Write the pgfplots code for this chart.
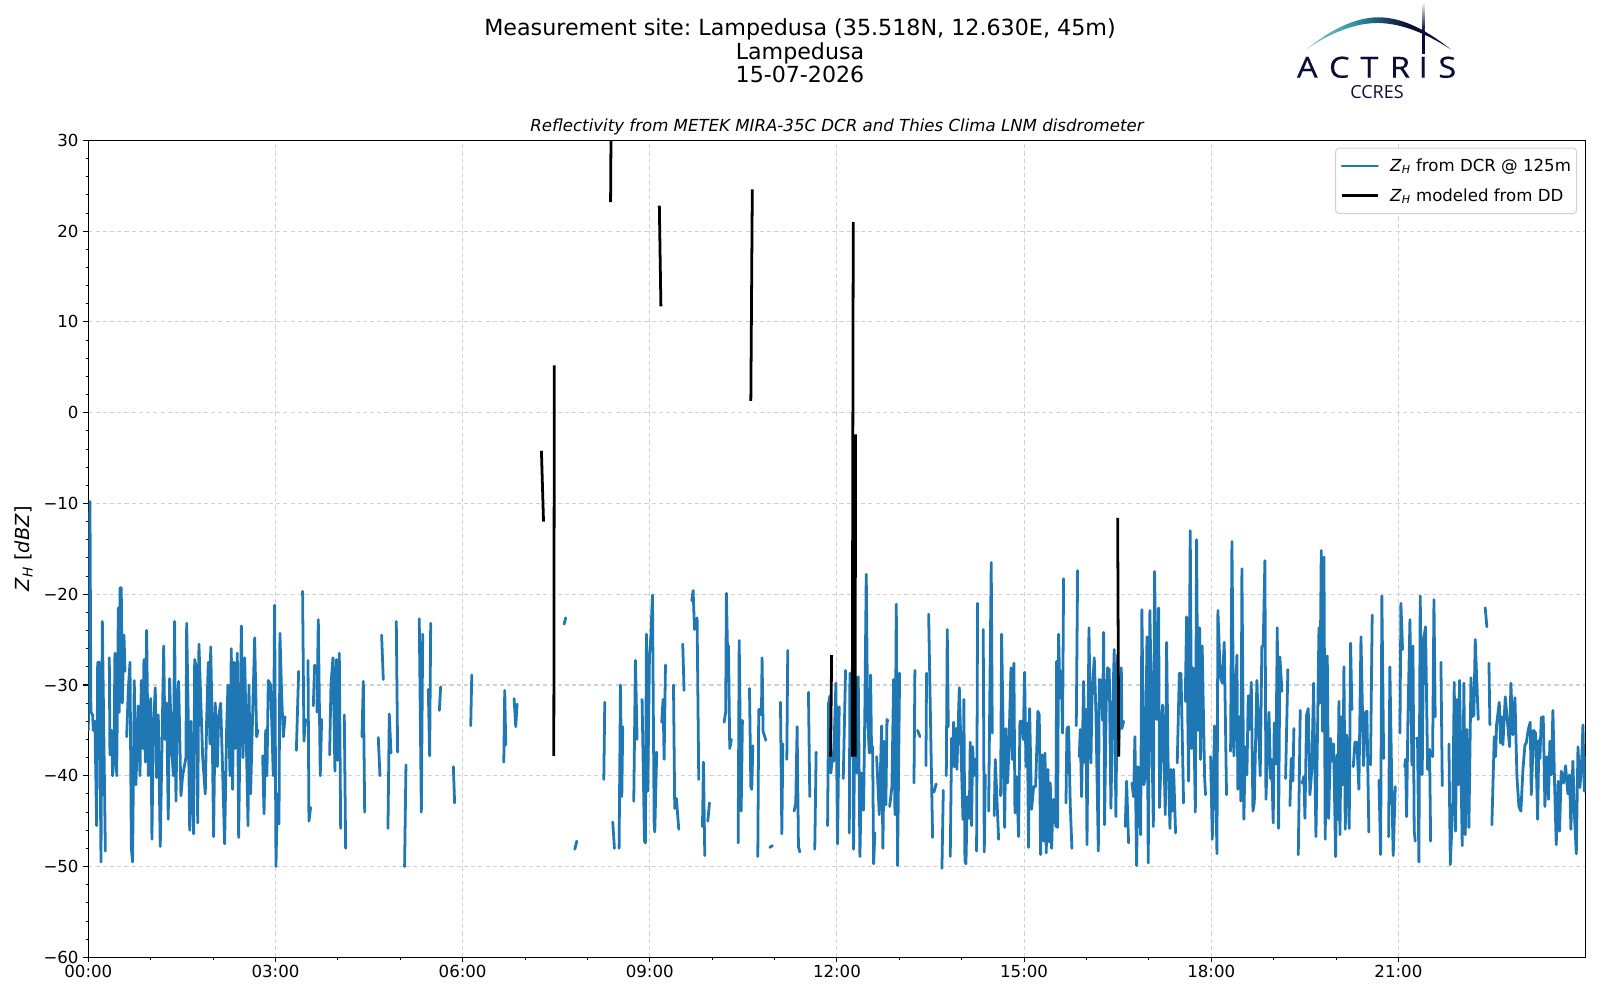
\documentclass[border=0pt]{standalone}
\usepackage{fontspec}
\usepackage{pgfplots}
\pgfplotsset{compat=1.18}
\setmainfont{DejaVu Sans}
\newfontfamily\logofont{Open Sans}
\newfontfamily\logowide[FakeBold=0.5,FakeStretch=1.12]{Open Sans}
\frenchspacing
\definecolor{mplblue}{HTML}{1F77B4}
\definecolor{gridgrey}{HTML}{D2D2D2}
\definecolor{logonavy}{HTML}{0C0C38}
\definecolor{logoteal}{HTML}{2F93A3}
\definecolor{logolight}{HTML}{85CFC6}
\pgfdeclarehorizontalshading{logoarc}{100bp}{color(0bp)=(logolight); color(25bp)=(logolight); color(42bp)=(logoteal); color(50bp)=(logoteal!55!logonavy); color(60bp)=(logonavy); color(100bp)=(logonavy)}
\newcommand{\ZH}{\textit{Z}\textsubscript{\textit{H}}}
\begin{document}
\begin{tikzpicture}[x=1bp,y=1bp]
\path[use as bounding box] (0,0) rectangle (1152,720);
\begin{axis}[
  at={(63.58bp,30.74bp)}, anchor=south west,
  scale only axis, width=1078.0bp, height=588.24bp,
  xmin=0, xmax=1440, ymin=-60, ymax=30,
  xtick={0,180,360,540,720,900,1080,1260},
  xticklabels={00:00,03:00,06:00,09:00,12:00,15:00,18:00,21:00},
  ytick={-60,-50,-40,-30,-20,-10,0,10,20,30},
  yticklabels={−60,−50,−40,−30,−20,−10,0,10,20,30},
  minor x tick num=2, minor y tick num=4,
  tick align=outside, tick pos=left,
  major tick length=3.5bp, minor tick length=2bp,
  every tick/.style={black,line width=0.8bp},
  minor tick style={black,line width=0.6bp},
  axis line style={line width=0.8bp},
  tick label style={font=\fontsize{12}{14}\selectfont},
  xticklabel style={yshift=1bp},
  grid=major,
  major grid style={gridgrey,dashed,line width=0.8bp,dash pattern=on 3bp off 2.2bp},
  unbounded coords=jump,
  clip=true,
  legend cell align=left,
  legend style={at={(0.9943,0.991)},anchor=north east,draw=gridgrey,rounded corners=2.5bp,
    fill=white,fill opacity=0.8,text opacity=1,draw opacity=1,
    font=\fontsize{12}{14}\selectfont,inner xsep=2bp,inner ysep=5.5bp,
    row sep=7bp,line width=0.7bp},
  legend image code/.code={\draw[#1,line width=2bp] (0bp,0bp) -- (25.7bp,0bp);\path (-1.6bp,0bp) (31.7bp,0bp);},
  ylabel={\fontsize{14}{16}\selectfont \ZH{} [\textit{dBZ}]},
  ylabel style={at={(axis description cs:0,0.5)},anchor=south,yshift=36.6bp},
]
\addplot[mplblue,line width=2bp,line join=round,line cap=round] coordinates {
(0,-35)(1.6,-9.8)(2.5,-33)(4.2,-33.3)(4.8,-35)(6.4,-34)(8,-45.5)(9,-27.5)(10.6,-27.5)(12.2,-49.5)(13.5,-23)(16.4,-48.3)(16.4,nan)
(20.2,-27)(20.8,-37.7)(22.4,-35)(23.4,-40)(24.7,-38)(25.6,-26.5)(27.3,-40)(28.9,-21.5)(29.8,-33)(30.5,-19.3)(31.7,-19.3)(32.7,-32)(34.3,-24.5)(35.3,-28.5)(35.3,nan)
(36.9,-35.7)(38.5,-30.5)(40.1,-27.5)(41.4,-48)(42.6,-49.5)(44.2,-29.5)(45.8,-41)(48.1,-32.3)(49.7,-40)(51,-29.5)(52.3,-37)(53.5,-27.2)(54.8,-38.5)(56.1,-24)(57.7,-40)(60,-31.5)(61.2,-47)(62.5,-35)(64.4,-30.3)(65.7,-40.2)(67.3,-33.3)(69.2,-47.8)(72.5,-25.7)(73.7,-36)(75.3,-32)(76.9,-44.8)(78.2,-29.3)(80.2,-37)(81.8,-40)(83,-23)(84.3,-42.8)(85.6,-32)(86.9,-29.6)(89.1,-42.2)(90.7,-40)(93.9,-38)(94.6,-23.2)(96.2,-34)(97.5,-46)(98.7,-34)(99.7,-41)(101.3,-46.4)(102.3,-27.2)(104.2,-28.3)(105.2,-45.2)(106.4,-25.5)(110,-38)(112.5,-42)(113.8,-34)(115.4,-27.5)(117,-36.5)(117.7,-25.8)(118.9,-32.8)(120.5,-46.7)(122.1,-32)(124.1,-39)(125.4,-33.5)(127.3,-32)(128.9,-38.3)(131.1,-47.5)(133,-35)(134.3,-30)(136.3,-40)(137.5,-26)(138.8,-41.5)(140.1,-27.5)(141.4,-37)(143.3,-26.5)(144.6,-46.8)(147.2,-23.5)(148.8,-38)(150.4,-27)(153.6,-45.5)(154.5,-30)(156.1,-42)(158.1,-33)(160,-24.8)(161.9,-35.7)(163.2,-35)(163.2,nan)
(167.7,-37.8)(169,-44.2)(170.6,-35)(171.8,-40)(173.1,-29.5)(175.4,-30)(177.9,-40)(179.2,-21.2)(180.5,-50)(181.8,-42)(183.4,-45.3)(184.3,-24.3)(185.9,-31)(187.6,-35.7)(189.2,-33.5)(189.2,nan)
(200.1,-37.2)(202.3,-28.5)(202.3,nan)
(206.1,-19.7)(207.4,-36.2)(208.7,-33.8)(208.7,nan)
(211.3,-27.3)(212.2,-45)(213.8,-43.5)(213.8,nan)
(216.4,-32.3)(217.7,-27.8)(217.7,nan)
(219.9,-33)(221.2,-22.8)(223.1,-40)(224.4,-33.8)(224.4,nan)
(232.1,-37.7)(233.4,-30)(235.3,-27)(237.2,-39.5)(238.5,-27.2)(239.8,-38.3)(241.4,-26.5)(242.7,-45.8)(242.7,nan)
(246.2,-33.3)(247.5,-48)(247.5,nan)
(263.2,-35.7)(264.5,-29.6)(265.8,-44)(265.8,nan)
(278.9,-35.8)(280.5,-40)(280.5,nan)
(282.1,-24.5)(283.7,-29.4)(283.7,nan)
(288.2,-45.8)(289.5,-33.2)(291.1,-37.5)(291.1,nan)
(296.2,-23)(297.5,-37.4)(297.5,nan)
(304.2,-50)(305.5,-38.8)(305.5,nan)
(318.3,-22.7)(320.3,-44)(321.6,-24.4)(321.6,nan)
(327,-30.5)(328.3,-37.8)(329.3,-23.2)(329.3,nan)
(337.6,-32.8)(338.9,-30.2)(338.9,nan)
(351.1,-39)(352.3,-43)(352.3,nan)
(367.8,-34.5)(368.8,-28.9)(368.8,nan)
(399.6,-38.5)(400.5,-30.6)(401.5,-36.6)(401.5,nan)
(409.5,-31.5)(411.1,-34.6)(412.4,-32.1)(412.4,nan)
(457.6,-23.3)(459.2,-22.6)(459.2,nan)
(467.9,-48.1)(469.8,-47.2)(469.8,nan)
(495.8,-40.4)(496.7,-31.9)(496.7,nan)
(504.4,-45.1)(506,-48)(506,nan)
(510.5,-48)(511.8,-30)(513.1,-42.3)(514,-34.6)(514,nan)
(524.6,-42.8)(526.2,-27.3)(527.8,-36)(527.8,nan)
(532.6,-31.6)(534.9,-47.2)(535.8,-47.4)(536.8,-24.4)(538.1,-41.7)(539.7,-26.7)(541,-24.8)(542.6,-20.1)(544.2,-45.2)(544.8,-46.2)(546.7,-37.4)(546.7,nan)
(551.5,-34.1)(552.8,-31.6)(553.8,-38.2)(555.1,-27.8)(555.1,nan)
(562.8,-30)(564,-43.6)(565.6,-42.5)(567.9,-45.9)(567.9,nan)
(571.7,-25.5)(573,-30.6)(573,nan)
(580.4,-20.7)(581.7,-19.6)(583,-23.9)(583,nan)
(585.5,-22.6)(587.1,-40.4)(587.1,nan)
(590.7,-45.6)(591.6,-38.5)(592.9,-48.8)(592.9,nan)
(595.8,-45)(597.4,-43)(597.4,nan)
(611.5,-34.1)(613,-33)(613.7,-19.9)(614.7,-25.8)(615.7,-25.7)(616.9,-37)(618.5,-36)(618.5,nan)
(625,-47.4)(626,-25.1)(627.9,-43.9)(629.1,-33.9)(629.1,nan)
(635.9,-30.4)(637.2,-41.2)(638.1,-41.5)(639.1,-36.7)(639.1,nan)
(643.9,-48.9)(644.8,-32.7)(646.1,-32.7)(647.4,-33.3)(648,-27)(649,-35.1)(651.6,-36.1)(651.6,nan)
(655.4,-47.9)(658,-47.7)(658,nan)
(665.7,-31.9)(667,-46.4)(668,-36.5)(668,nan)
(671.8,-38.2)(672.7,-26.2)(672.7,nan)
(678.8,-43.9)(680.4,-43)(681.7,-34.6)(683,-47.8)(684.3,-48.4)(684.3,nan)
(692.6,-30.8)(693.9,-42.3)(693.9,nan)
(698.7,-48.1)(700,-37.4)(700,nan)
(711,-45.5)(712,-32)(713.3,-31.2)(714.2,-39.7)(715.8,-37.5)(716.8,-38.4)(719,-29.8)(720.6,-47.5)(722.2,-32.4)(722.2,nan)
(726.1,-40.3)(728.3,-28.4)(728.3,nan)
(731.9,-46.3)(732.5,-28.7)(734.1,-37.5)(735.1,-26.7)(736,-48.1)(737.6,-29.1)(738.9,-39.7)(740.5,-29.1)(742.1,-48.9)(743.7,-39.7)(745.6,-43.8)(746.9,-32.4)(748.2,-17.8)(749.5,-33.5)(751.1,-37.5)(752.4,-28.9)(753.3,-37.5)(754.3,-36.8)(755.3,-49.7)(756.5,-46.3)(756.5,nan)
(758.2,-37.9)(760.7,-44.3)(763,-34.5)(764.2,-48)(765.5,-36.2)(767.1,-43.2)(768.1,-33.8)(769.1,-34)(769.1,nan)
(770.7,-43.4)(772.9,-41.2)(774.5,-29.4)(775.8,-44.3)(777.1,-21.1)(778.3,-49.9)(780.3,-28.7)(780.3,nan)
(794.1,-40.8)(795,-28.4)(795,nan)
(797.6,-35)(799.8,-35.7)(799.8,nan)
(805.6,-38.9)(806.2,-28.7)(806.2,nan)
(808.2,-22.2)(812,-46.8)(812,nan)
(813.3,-41.8)(815.5,-40.9)(815.5,nan)
(821,-50.2)(822.3,-41.6)(822.3,nan)
(825.2,-40)(826.1,-23.9)(827.1,-34.6)(827.1,nan)
(829,-48.9)(830.3,-35.9)(831.2,-39)(832.2,-34.1)(833.2,-39)(834.5,-34.8)(835.4,-39.3)(837.7,-30.3)(841.2,-44.8)(842.1,-31.6)(843.1,-49.4)(844.1,-49.7)(845.4,-42.3)(847.3,-44.7)(848.2,-36.3)(849.5,-45.5)(850.5,-36.8)(851.8,-40)(853,-38.2)(853,nan)
(854.3,-48.3)(855.3,-21)(855.3,nan)
(860.7,-23.9)(861.7,-48.4)(862.7,-39.9)(862.7,nan)
(865.9,-43.9)(868.4,-16.5)(869.4,-35.3)(869.4,nan)
(871.3,-44.4)(872.3,-38.2)(875.5,-47)(875.5,nan)
(877.4,-42.2)(878.4,-24.4)(881.3,-45.7)(882.5,-34.8)(884.1,-40.8)(885.1,-38.1)(887.4,-28.1)(888.6,-38.2)(890.2,-27.6)(891.2,-44.1)(892.8,-40.1)(894.7,-46.7)(896,-34)(897.9,-34)(899.2,-36)(900.5,-28.6)(901.8,-39)(903.1,-34.2)(904.3,-47.9)(905.3,-32.6)(907.2,-43.7)(909.2,-41.2)(911.1,-41.2)(913.3,-32.9)(914.6,-33.3)(915.9,-48.7)(917.5,-37.7)(918.8,-47.2)(920.1,-37.5)(921.3,-48.5)(922.9,-39.3)(924.2,-47.3)(925.2,-40.8)(926.5,-48)(927.4,-44.5)(928.4,-42.6)(930.6,-45.6)(931.3,-27.4)(932.2,-45.7)(933.2,-24.4)(934.5,-31.4)(935.8,-28.5)(937,-35.3)(938,-18.3)(938,nan)
(940.3,-43)(941.2,-34.8)(942.8,-34.6)(944.4,-43.2)(946,-48)(946,nan)
(950.2,-34.5)(951.5,-17.4)(951.5,nan)
(953.1,-37.9)(954,-34.9)(955.3,-42.3)(957.2,-29.6)(958.8,-38.6)(959.5,-32.7)(960.5,-47.6)(962.4,-23.7)(964.3,-38.6)(965.3,-31.3)(967.5,-27)(969.1,-33.1)(971.4,-48.3)(972.3,-29.4)(973.9,-29.5)(975.5,-33.9)(976.5,-24.2)(977.4,-45.4)(979,-32)(980.3,-28.1)(981.9,-28.3)(983.5,-43.6)(985.1,-33.1)(986.7,-26.1)(988.3,-44.5)(989.9,-26.7)(990.9,-37.7)(993.5,-28.1)(994.1,-34.8)(995.7,-34)(995.7,nan)
(997.3,-45.6)(998.6,-40.6)(1000.5,-47.4)(1000.5,nan)
(1003.7,-40.8)(1005.3,-42.3)(1006.6,-35.7)(1008.2,-49.9)(1009.5,-39)(1012.1,-46.5)(1013.3,-21.7)(1015.3,-41)(1016.6,-39.7)(1018.2,-24.7)(1019.4,-49.6)(1021,-21.8)(1024.3,-45.6)(1025.5,-17.5)(1027.5,-33.8)(1029.4,-21.5)(1030.3,-43.5)(1033.2,-32.2)(1034.5,-37.5)(1035.8,-44.3)(1037.1,-25.3)(1038.4,-38.1)(1040.3,-45.8)(1041.2,-39.3)(1042.5,-43.9)(1043.8,-39.3)(1045.7,-46.3)(1045.7,nan)
(1047.3,-38.6)(1049.3,-28.7)(1050.9,-28.7)(1053.4,-43)(1053.4,nan)
(1055,-31.8)(1056.3,-22.5)(1058.2,-40.6)(1059.8,-13)(1061.1,-37)(1062.4,-28.1)(1064.7,-44)(1065.9,-14)(1067.2,-35)(1068.8,-23.7)(1069.7,-38.2)(1071.3,-25.7)(1073.6,-40.1)(1074.5,-42.1)(1074.5,nan)
(1079.4,-37.9)(1081,-47)(1083.2,-34.5)(1085.5,-48.6)(1086.4,-21.8)(1088.7,-29)(1090.6,-29.8)(1092.5,-25.3)(1094.7,-42.1)(1094.7,nan)
(1098.6,-37.3)(1099.9,-14.2)(1101.8,-37.8)(1104.7,-26.7)(1105.6,-41.5)(1107.3,-33.5)(1108.5,-42.8)(1109.5,-17.2)(1111.4,-44.8)(1112.7,-36.8)(1114.3,-39.9)(1115.6,-31.2)(1116.9,-34.9)(1118.5,-29.7)(1120.1,-43.9)(1121.4,-43)(1123.9,-29.5)(1127.1,-40)(1128.7,-25.8)(1130,-25.6)(1131.6,-16.3)(1132.6,-42.6)(1135.5,-33)(1137.1,-40.3)(1138,-38.2)(1139.6,-45.2)(1140.6,-34.2)(1142.2,-38.7)(1143.5,-23.7)(1144.8,-45.8)(1146,-26.9)(1148,-30.7)(1148,nan)
(1151.5,-40.3)(1153.7,-28.3)(1153.7,nan)
(1155.7,-43.3)(1156.9,-38.1)(1158.5,-40.6)(1159.5,-34.8)(1159.5,nan)
(1163.7,-48.7)(1165.6,-32.8)(1165.6,nan)
(1167.5,-40.8)(1169.1,-40.1)(1170.1,-44.7)(1171.7,-33.3)(1173.3,-32.6)(1174.9,-42.1)(1176.8,-39.2)(1178.4,-29.8)(1180.7,-46.7)(1182,-36.8)(1183.6,-23.7)(1184.5,-32)(1185.8,-15.2)(1187.1,-35.1)(1188.4,-15.9)(1189.6,-47)(1191.6,-26.8)(1192.9,-44.7)(1194.8,-35.9)(1196.4,-38.4)(1197.7,-36.5)(1199.6,-48.9)(1200.9,-37.7)(1201.8,-44.8)(1202.8,-31.8)(1203.8,-46.5)(1205,-33.5)(1206.6,-41)(1207.6,-28)(1208.9,-45.9)(1210.2,-35.5)(1212.7,-45.8)(1214,-25.4)(1215.3,-32.7)(1215.3,nan)
(1216.6,-39)(1218.2,-36.3)(1220.1,-36.3)(1222,-41.5)(1224,-24.7)(1226.5,-38.9)(1228.4,-33)(1229.7,-32.9)(1231.6,-46.2)(1231.6,nan)
(1233.2,-38.8)(1234.8,-22.3)(1234.8,nan)
(1241.3,-40.5)(1242.9,-48.7)(1244.1,-20.2)(1245.8,-38.1)(1245.8,nan)
(1250.6,-46.7)(1251.8,-28)(1253.8,-42.2)(1255,-48.8)(1257,-41.2)(1257,nan)
(1261.5,-35.3)(1262.4,-21)(1264,-26.1)(1264,nan)
(1266,-39)(1266.9,-38.2)(1267.9,-44.5)(1269.1,-34.2)(1271.1,-22.8)(1273,-38.8)(1274,-25.7)(1275.2,-46.1)(1276.2,-47.2)(1276.2,nan)
(1277.2,-35.9)(1278.4,-35.9)(1279.7,-49.5)(1281,-20.2)(1282.9,-39.9)(1284.2,-25)(1286.1,-23.6)(1288.1,-39.3)(1290,-37.1)(1291,-47.2)(1291,nan)
(1292.9,-37.9)(1294.2,-20.6)(1295.4,-33.5)(1295.4,nan)
(1300.9,-27.5)(1302.2,-41.1)(1302.2,nan)
(1308.6,-36.5)(1309.9,-49.8)(1312.4,-43)(1313.7,-29.7)(1315,-46.1)(1316.3,-31.6)(1317.6,-41)(1318.8,-29.5)(1321.4,-47.7)(1323,-29.8)(1324.3,-46.5)(1325.9,-34.9)(1327.8,-45.7)(1329.8,-29.2)(1331,-33.5)(1332.6,-33.3)(1333.9,-25)(1336.8,-33.8)(1336.8,nan)
(1343.5,-21.5)(1345.1,-23.6)(1345.1,nan)
(1347.1,-27.6)(1348,-34.4)(1348,nan)
(1349.9,-45.4)(1352.2,-35.7)(1353.5,-37.9)(1354.4,-34.4)(1357,-31.9)(1358.3,-36.4)(1359.2,-33.5)(1360.5,-36.6)(1362.8,-31.3)(1365,-34.2)(1366.9,-36.8)(1368.2,-29.8)(1370.1,-35.5)(1372.1,-31.4)(1374,-40.1)(1375.9,-43.4)(1377.8,-43.9)(1379.8,-39.3)(1381.7,-36.6)(1383,-36.4)(1384.9,-34.9)(1386.8,-34.1)(1387.8,-42.1)(1390,-35)(1391.9,-35.3)(1393.9,-44.8)(1395.1,-36.1)(1396.1,-38.1)(1397.4,-33.6)(1399.3,-33.5)(1400.9,-43.4)(1402.8,-37.9)(1404.4,-42.6)(1405.7,-36.2)(1407,-39.9)(1408.6,-32.8)(1410.2,-40.8)(1411.8,-47.6)(1413.7,-40.6)(1415,-46.1)(1416.6,-39.5)(1418.9,-40.8)(1420.8,-38.9)(1423,-42)(1424.6,-39.9)(1425.9,-45.9)(1427.8,-38.4)(1429.5,-44.8)(1431.1,-48.6)(1432.7,-36.8)(1434.6,-41.3)(1436.2,-38.6)(1437.5,-34.4)(1438.8,-41.7)(1440,-38)
};
\addlegendentry{\ZH{} from DCR @ 125m}
\addplot[black,line width=2bp,line join=round,line cap=butt] coordinates {
(435.8,-4.2)(437.8,-12)(437.8,nan)
(448.2,5.2)(447.7,-37.8)(447.7,nan)
(502.8,32)(502.3,23.2)(502.3,nan)
(549.2,22.8)(550.7,11.7)(550.7,nan)
(638.6,24.6)(637.2,1.3)(637.2,nan)
(714.9,-26.7)(713.9,-37.9)(713.9,nan)
(735.7,21)(734.7,-37.9)(734.7,nan)
(737.9,-2.4)(737.5,-37.9)(737.5,nan)
(990,-11.6)(991,-37.9)
};
\addlegendentry{\ZH{} modeled from DD}
\end{axis}
% titles and logo, positioned in pixels from the top left
\begin{scope}[x=0.72bp,y=-0.72bp,shift={(0bp,720bp)}]
\node[font=\fontsize{16.05}{19}\selectfont,anchor=base] at (800,36) {Measurement site: Lampedusa (35.518N, 12.630E, 45m)};
\node[font=\fontsize{16}{19}\selectfont,anchor=base] at (800,59.3) {Lampedusa};
\node[font=\fontsize{16}{19}\selectfont,anchor=base] at (800,82.3) {15-07-2026};
\node[font=\fontsize{12}{14}\selectfont\itshape,anchor=base] at (837,131.7) {Reflectivity from METEK MIRA-35C DCR and Thies Clima LNM disdrometer};
% logo
\shade[shading=logoarc]
  (1306,49.5) .. controls (1330,30) and (1355,17.5) .. (1378,17.3)
  .. controls (1405,17.3) and (1430,33) .. (1451,49.5)
  .. controls (1430,36) and (1405,23.5) .. (1378,23)
  .. controls (1355,23) and (1330,33) .. (1306,49.5) -- cycle;
\shade[top color=white,bottom color=logonavy] (1422.2,2) rectangle (1424.5,30);
\fill[logonavy] (1422.2,30) rectangle (1424.5,54);
\begin{scope}[every node/.style={text=logonavy,font=\logowide\fontsize{21}{24}\selectfont,anchor=base}]
\node at (1307.3,77.7) {A};
\node at (1339.3,77.7) {C};
\node at (1369.3,77.7) {T};
\node at (1400,77.7) {R};
\node at (1423.3,77.7) {I};
\node at (1447.3,77.7) {S};
\end{scope}
\node[text=logonavy,font=\logofont\fontsize{13}{15}\selectfont,anchor=base] at (1377,98.3) {CCRES};
\end{scope}
\end{tikzpicture}
\end{document}
